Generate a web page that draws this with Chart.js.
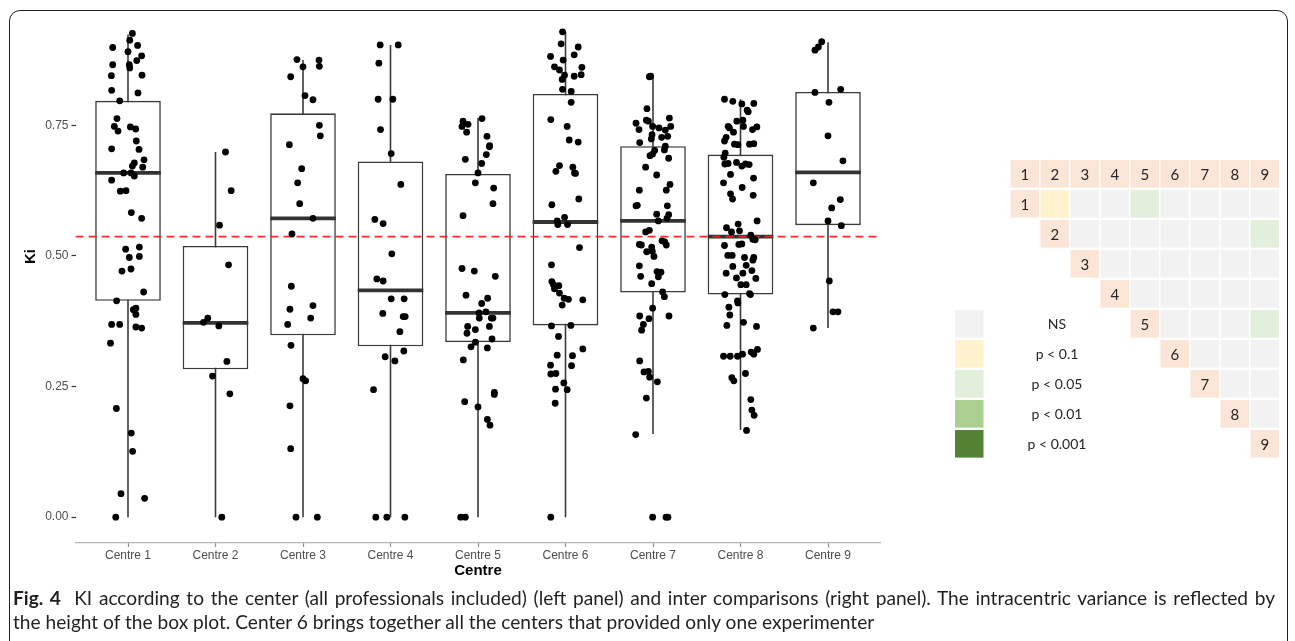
<!DOCTYPE html>
<html>
<head>
<meta charset="utf-8">
<script src="https://cdn.jsdelivr.net/npm/chart.js@4.4.1/dist/chart.umd.min.js"></script>
<style>
  body { margin: 0; background: #fff; width: 1295px; height: 641px; overflow: hidden; position: relative; }
  #frame { position: absolute; left: 9px; top: 10px; width: 1279px; height: 700px; border: 1.3px solid #231f20; border-radius: 11px; box-sizing: border-box; }
  #kiChart { position: absolute; left: 0; top: -40px; }
  #matrix { position: absolute; left: 940px; top: 150px; }
  #caption { position: absolute; left: 13px; top: 586px; font-family: Lato, "Open Sans", sans-serif; font-size: 16px; line-height: 24px; color: #231f20; white-space: nowrap; }
  #capLine1 { width: 1262px; text-align: justify; text-align-last: justify; }
  #caption b { font-weight: bold; }
</style>
</head>
<body>
<div id="frame"></div>
<canvas id="kiChart" width="900" height="640"></canvas>
<canvas id="matrix" width="350" height="320"></canvas>
<div id="caption">
  <div id="capLine1"><b>Fig. 4</b>&nbsp; KI according to the center (all professionals included) (left panel) and inter comparisons (right panel). The intracentric variance is reflected by</div>
  <div><span id="cap2">the height of the box plot. Center 6 brings together all the centers that provided only one experimenter</span></div>
</div>
<script>
// box plot summary per centre
const centreNames = ['Centre 1','Centre 2','Centre 3','Centre 4','Centre 5','Centre 6','Centre 7','Centre 8','Centre 9'];
const q1 = [0.414, 0.283, 0.348, 0.327, 0.335, 0.367, 0.430, 0.426, 0.559];
const median = [0.659, 0.372, 0.572, 0.434, 0.391, 0.565, 0.567, 0.537, 0.660];
const q3 = [0.797, 0.519, 0.773, 0.681, 0.657, 0.810, 0.710, 0.694, 0.814];
const whiskerLow = [0, 0, 0, 0, 0, 0, 0.159, 0.167, 0.362];
const whiskerHigh = [0.924, 0.699, 0.875, 0.904, 0.764, 0.929, 0.845, 0.800, 0.909];
const refKi = 0.537;
const yTicks = [0, 0.25, 0.5, 0.75];

// individual Ki values (and horizontal jitter, in centre units)
const c1Ki = [0.926,0.913,0.899,0.903,0.891,0.883,0.874,0.866,0.866,0.860,0.845,0.846,0.817,0.812,0.797,0.763,0.748,0.739,0.747,0.743,0.720,0.705,0.704,0.684,0.678,0.670,0.672,0.659,0.659,0.653,0.645,0.624,0.625,0.583,0.572,0.513,0.517,0.497,0.499,0.471,0.475,0.431,0.414,0.397,0.400,0.388,0.369,0.369,0.364,0.362,0.333,0.208,0.161,0.126,0.045,0.036,0.0];
const c1Jit = [0.05,0.02,-0.175,0.11,0.0,0.156,0.1,-0.175,0.015,0.02,-0.19,0.16,-0.187,0.114,-0.095,-0.126,-0.156,-0.114,0.027,0.088,0.095,-0.187,0.126,0.183,0.072,0.168,0.05,-0.05,0.034,0.072,-0.187,-0.088,-0.023,0.038,0.156,-0.027,0.13,0.015,0.13,-0.069,0.034,0.179,-0.13,0.061,0.09,0.09,-0.187,-0.095,0.09,0.156,-0.2,-0.133,0.038,0.053,-0.08,0.19,-0.14];
const c2Ki = [0.699,0.625,0.559,0.483,0.381,0.373,0.366,0.298,0.270,0.236,0.0];
const c2Jit = [0.114,0.179,0.046,0.149,-0.088,-0.137,0.038,0.13,-0.034,0.164,0.072];
const c3Ki = [0.876,0.875,0.862,0.863,0.843,0.807,0.799,0.750,0.730,0.713,0.667,0.640,0.600,0.572,0.542,0.442,0.398,0.405,0.369,0.381,0.329,0.265,0.261,0.213,0.131,0.0,0.0];
const c3Jit = [-0.069,0.183,0.0,0.187,-0.141,0.023,0.114,0.187,0.198,-0.156,-0.015,-0.061,-0.038,0.114,-0.126,-0.133,-0.149,0.114,-0.175,0.088,-0.137,0.0,0.03,-0.149,-0.141,-0.08,0.164];
const c4Ki = [0.904,0.904,0.869,0.800,0.800,0.742,0.696,0.637,0.570,0.562,0.504,0.456,0.452,0.418,0.418,0.390,0.384,0.384,0.355,0.318,0.307,0.299,0.244,0.0,0.0,0.0];
const c4Jit = [-0.118,0.088,-0.133,-0.141,0.027,-0.114,0.008,0.118,-0.179,-0.084,0.015,-0.156,-0.084,0.008,0.156,-0.088,0.145,0.168,0.107,0.152,-0.061,0.05,-0.194,-0.168,-0.042,0.164];
const c5Ki = [0.763,0.758,0.752,0.748,0.737,0.729,0.711,0.709,0.694,0.685,0.677,0.659,0.640,0.630,0.600,0.577,0.476,0.471,0.461,0.425,0.419,0.409,0.393,0.391,0.381,0.381,0.381,0.365,0.365,0.359,0.352,0.341,0.335,0.326,0.324,0.301,0.239,0.235,0.221,0.211,0.187,0.176,0.0,0.0];
const c5Jit = [0.046,-0.171,-0.114,-0.183,-0.13,0.103,0.133,0.13,0.095,-0.145,0.042,0.0,-0.03,0.179,0.171,-0.171,-0.183,-0.042,0.198,-0.137,0.11,0.042,0.091,0.011,0.015,0.152,0.171,-0.118,0.13,-0.03,-0.126,0.16,-0.03,-0.08,0.107,-0.168,0.187,0.187,-0.152,0.0,0.107,0.137,-0.198,-0.145];
const c6Ki = [0.929,0.906,0.900,0.882,0.885,0.875,0.862,0.861,0.856,0.846,0.844,0.847,0.838,0.819,0.815,0.794,0.761,0.748,0.722,0.718,0.673,0.662,0.670,0.659,0.658,0.609,0.598,0.574,0.567,0.560,0.560,0.516,0.483,0.451,0.445,0.443,0.437,0.429,0.419,0.417,0.406,0.416,0.366,0.367,0.346,0.322,0.310,0.309,0.291,0.290,0.274,0.275,0.257,0.245,0.244,0.218,0.0];
const c6Jit = [-0.034,-0.05,0.145,-0.171,0.099,-0.027,-0.126,0.187,-0.069,-0.011,0.099,0.179,-0.038,-0.034,0.065,0.065,-0.168,0.019,0.042,0.145,-0.069,-0.11,0.084,0.103,0.114,0.152,-0.156,-0.011,-0.095,-0.088,0.023,0.16,-0.16,-0.156,-0.137,-0.076,-0.126,-0.069,-0.015,0.034,-0.038,0.198,-0.16,0.061,-0.08,0.198,-0.095,0.08,-0.171,0.069,-0.168,-0.11,-0.019,-0.114,0.019,-0.118,-0.168];
const c7Ki = [0.843,0.844,0.782,0.754,0.760,0.758,0.742,0.764,0.748,0.748,0.745,0.741,0.732,0.727,0.729,0.724,0.717,0.710,0.703,0.702,0.695,0.692,0.687,0.670,0.655,0.637,0.626,0.626,0.596,0.597,0.596,0.580,0.579,0.572,0.567,0.549,0.546,0.522,0.521,0.529,0.527,0.521,0.517,0.508,0.509,0.499,0.481,0.470,0.469,0.461,0.460,0.447,0.431,0.422,0.400,0.385,0.385,0.380,0.369,0.358,0.299,0.278,0.279,0.268,0.259,0.228,0.158,0.0,0.0,0.0];
const c7Jit = [-0.042,-0.027,-0.069,-0.194,-0.076,-0.053,-0.16,0.187,0.202,-0.004,0.069,0.141,-0.011,0.099,0.168,-0.019,-0.152,0.141,0.13,0.019,-0.004,-0.034,0.179,-0.084,0.042,0.194,-0.156,0.152,-0.194,-0.179,0.164,0.042,0.179,0.16,0.061,-0.042,-0.084,-0.156,-0.133,0.103,0.133,0.152,-0.015,-0.072,-0.008,0.011,-0.156,0.046,0.091,-0.141,0.061,-0.015,0.11,0.13,-0.004,-0.152,0.183,-0.046,-0.11,-0.13,-0.152,-0.103,-0.053,-0.038,0.05,-0.076,-0.198,-0.004,0.149,0.171];
const c8Ki = [0.800,0.796,0.791,0.792,0.779,0.776,0.758,0.760,0.748,0.748,0.747,0.742,0.745,0.737,0.727,0.720,0.714,0.713,0.714,0.715,0.697,0.689,0.676,0.677,0.679,0.672,0.676,0.675,0.656,0.649,0.640,0.631,0.619,0.616,0.609,0.567,0.554,0.561,0.546,0.548,0.540,0.532,0.531,0.520,0.522,0.523,0.501,0.501,0.497,0.497,0.492,0.480,0.482,0.472,0.467,0.467,0.458,0.457,0.445,0.445,0.428,0.426,0.426,0.414,0.410,0.402,0.387,0.373,0.367,0.365,0.308,0.308,0.308,0.312,0.316,0.312,0.321,0.267,0.261,0.275,0.225,0.205,0.195,0.166];
const c8Jit = [-0.183,-0.088,0.015,0.152,0.076,0.088,-0.042,0.027,-0.141,0.034,0.187,0.137,-0.126,-0.08,-0.164,-0.183,-0.069,-0.03,0.103,0.152,-0.175,-0.19,-0.179,-0.141,-0.046,0.015,0.057,0.099,-0.114,0.149,-0.194,0.019,-0.114,0.145,-0.091,0.19,-0.16,-0.027,-0.103,-0.011,0.118,0.141,0.168,-0.183,-0.019,0.015,-0.145,-0.095,0.046,0.152,0.141,-0.088,0.065,0.13,-0.164,0.027,-0.046,0.175,0.004,0.065,0.103,0.114,-0.179,-0.034,-0.03,-0.133,-0.122,0.034,-0.156,0.183,-0.194,-0.118,-0.034,0.023,0.122,0.152,0.194,-0.099,-0.076,0.057,0.118,0.13,0.156,0.069];
const c9Ki = [0.910,0.900,0.894,0.813,0.819,0.794,0.730,0.682,0.640,0.608,0.592,0.567,0.558,0.452,0.393,0.393,0.362];
const c9Jit = [-0.072,-0.11,-0.149,-0.149,0.145,0.011,0.0,0.171,-0.168,0.141,0.042,0.0,0.152,0.015,0.057,0.114,-0.168];

// pairwise comparison matrix (right panel)
const matrixIds = ['1','2','3','4','5','6','7','8','9'];
const sigRow = [1, 1, 2, 5];
const sigCol = [2, 5, 9, 9];
const sigLevel = ['p < 0.1', 'p < 0.05', 'p < 0.05', 'p < 0.05'];
const legendLabels = ['NS', 'p < 0.1', 'p < 0.05', 'p < 0.01', 'p < 0.001'];
const legendColors = ['#f2f2f2', '#fff2cc', '#e2efda', '#a9d08e', '#548235'];

const kiByCentre = [c1Ki, c2Ki, c3Ki, c4Ki, c5Ki, c6Ki, c7Ki, c8Ki, c9Ki];
const jitByCentre = [c1Jit, c2Jit, c3Jit, c4Jit, c5Jit, c6Jit, c7Jit, c8Jit, c9Jit];
var points = [];
kiByCentre.forEach(function (vals, i) {
    vals.forEach(function (v, k) {
        points.push({ x: i + 1 + jitByCentre[i][k], y: v });
    });
});

var xMin = 0.4, xMax = 9.6;
var boxColor = '#3a3a3a';
var axisFont = { family: 'Liberation Sans', size: 12 };

var boxParts = {
    id: 'boxParts',
    beforeDatasetsDraw: function (chart) {
        var ctx = chart.ctx, x = chart.scales.x, y = chart.scales.y;
        ctx.save();
        ctx.strokeStyle = boxColor;
        ctx.lineWidth = 1.6;
        centreNames.forEach(function (n, i) {
            var px = x.getPixelForValue(i + 1);
            ctx.beginPath();
            ctx.moveTo(px, y.getPixelForValue(whiskerHigh[i]));
            ctx.lineTo(px, y.getPixelForValue(whiskerLow[i]));
            ctx.stroke();
        });
        ctx.restore();
    },
    afterDatasetDraw: function (chart, args) {
        if (args.meta.type !== 'bar') return;
        var ctx = chart.ctx, y = chart.scales.y;
        ctx.save();
        ctx.strokeStyle = '#333';
        ctx.lineWidth = 3.8;
        args.meta.data.forEach(function (bar, i) {
            var py = y.getPixelForValue(median[i]);
            ctx.beginPath();
            ctx.moveTo(bar.x - bar.width / 2, py);
            ctx.lineTo(bar.x + bar.width / 2, py);
            ctx.stroke();
        });
        ctx.restore();
    }
};

var kiCanvas = document.getElementById('kiChart');
var kiChart = new Chart(kiCanvas, {
    type: 'scatter',
    data: {
        datasets: [
            {
                type: 'bar',
                data: centreNames.map(function (n, i) { return { x: i + 1, y: [q1[i], q3[i]] }; }),
                backgroundColor: '#fff',
                borderColor: boxColor,
                borderWidth: 1.6,
                borderSkipped: false,
                categoryPercentage: 1,
                barPercentage: 0.75,
                order: 3
            },
            {
                type: 'line',
                data: [{ x: xMin, y: refKi }, { x: xMax, y: refKi }],
                borderColor: 'rgba(255,30,30,0.95)',
                borderWidth: 1.6,
                borderDash: [8, 5],
                pointRadius: 0,
                order: 2
            },
            {
                type: 'scatter',
                data: points,
                pointRadius: 3.4,
                backgroundColor: '#000',
                borderWidth: 0,
                order: 1
            }
        ]
    },
    options: {
        responsive: false,
        devicePixelRatio: 1,
        animation: false,
        layout: { padding: { left: 0, right: 19.5, top: 7, bottom: 12 } },
        plugins: { legend: { display: false }, tooltip: { enabled: false } },
        scales: {
            x: {
                type: 'linear',
                min: xMin,
                max: xMax,
                offset: false,
                afterBuildTicks: function (s) { s.ticks = centreNames.map(function (n, i) { return { value: i + 1 }; }); },
                afterFit: function (s) { s.height = 45; },
                ticks: {
                    autoSkip: false, maxRotation: 0, padding: 1,
                    color: '#4d4d4d', font: axisFont,
                    callback: function (v) { return centreNames[v - 1]; }
                },
                grid: { drawOnChartArea: false, offset: false, tickLength: 4, tickColor: '#8c8c8c', tickWidth: 1.2 },
                border: { display: true, color: '#b5b5b5', width: 1.2 },
                title: {
                    display: true, text: 'Centre', color: '#000',
                    font: { family: 'Liberation Sans', size: 15, weight: 'bold' },
                    padding: { top: 0, bottom: 8 }
                }
            },
            y: {
                type: 'linear',
                min: -0.0495,
                max: 1.047,
                afterBuildTicks: function (s) { s.ticks = yTicks.map(function (v) { return { value: v }; }); },
                afterFit: function (s) { s.width = 75.5; },
                ticks: {
                    padding: 3, color: '#4d4d4d', font: axisFont,
                    callback: function (v) { return v.toFixed(2); }
                },
                grid: { drawOnChartArea: false, tickLength: 4, tickColor: '#333', tickWidth: 1.2 },
                border: { display: false },
                title: {
                    display: true, text: 'Ki', color: '#000',
                    font: { family: 'Liberation Sans', size: 15, weight: 'bold' },
                    padding: { top: 22, bottom: 0 }
                }
            }
        }
    },
    plugins: [boxParts]
});

// right panel: comparison matrix and its legend
var cellW = 0.95, cellH = 0.92;
var matrixCells = {
    id: 'matrixCells',
    afterDraw: function (chart) {
        var ctx = chart.ctx, x = chart.scales.x, y = chart.scales.y;
        ctx.save();
        ctx.textAlign = 'center';
        ctx.textBaseline = 'middle';
        function cell(cx, cy, color, label) {
            var l = x.getPixelForValue(cx), r = x.getPixelForValue(cx + cellW);
            var t = y.getPixelForValue(cy), b = y.getPixelForValue(cy + cellH);
            ctx.fillStyle = color;
            ctx.fillRect(l, t, r - l, b - t);
            if (label) {
                ctx.font = '15px Lato';
                ctx.fillStyle = '#262626';
                ctx.fillText(label, (l + r) / 2, (t + b) / 2 + 1);
            }
        }
        matrixIds.forEach(function (id, c) { cell(c, 0, '#fbe5d6', id); });
        matrixIds.forEach(function (id, r) {
            for (var c = r; c < matrixIds.length; c++) {
                if (c === r) { cell(c, r + 1, '#fbe5d6', id); continue; }
                var color = legendColors[0];
                for (var k = 0; k < sigRow.length; k++) {
                    if (sigRow[k] === r + 1 && sigCol[k] === c + 1) color = legendColors[legendLabels.indexOf(sigLevel[k])];
                }
                cell(c, r + 1, color);
            }
        });
        legendLabels.forEach(function (lab, k) {
            cell(-1.85, 5 + k, legendColors[k]);
            ctx.font = '14px Lato';
            ctx.fillStyle = '#262626';
            ctx.fillText(lab, x.getPixelForValue(1.55), y.getPixelForValue(5 + k + cellH / 2) + 1);
        });
        ctx.restore();
    }
};

new Chart(document.getElementById('matrix'), {
    type: 'scatter',
    data: { datasets: [{ data: [] }] },
    options: {
        responsive: false,
        devicePixelRatio: 1,
        animation: false,
        layout: { padding: 0 },
        plugins: { legend: { display: false }, tooltip: { enabled: false } },
        scales: {
            x: { type: 'linear', min: -2.35, max: 9.317, display: false },
            y: { type: 'linear', min: -0.333, max: 10.333, reverse: true, display: false }
        }
    },
    plugins: [matrixCells]
});

// caption size: between the justified first line and the free second line
var cap2 = document.getElementById('cap2');
var w = cap2.getBoundingClientRect().width;
document.getElementById('caption').style.fontSize = (16 * 862 / w) + 'px';
</script>
</body>
</html>
